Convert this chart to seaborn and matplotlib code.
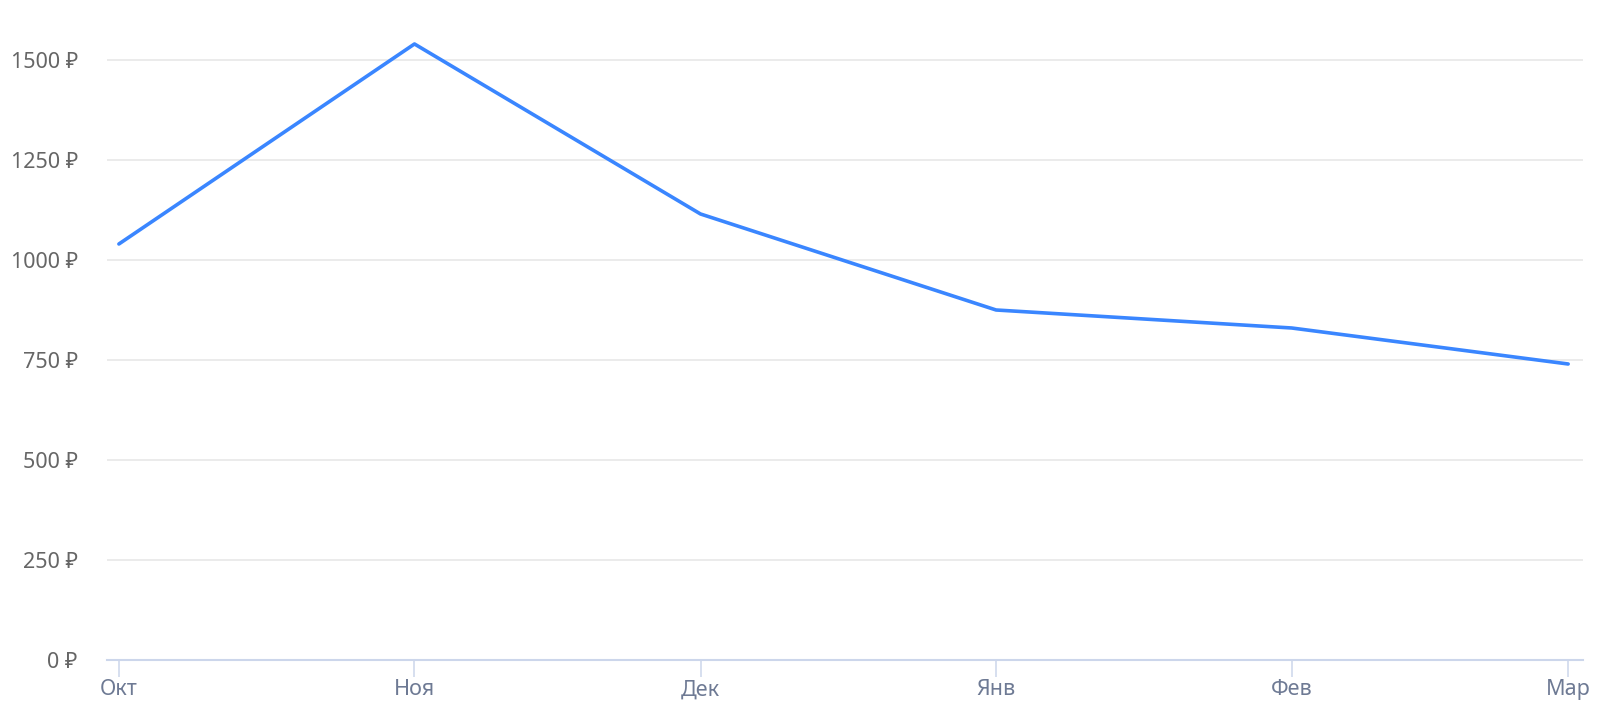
import pandas as pd
import matplotlib
matplotlib.use('Agg')
import matplotlib.pyplot as plt
import seaborn as sns

# Данные графика (цена по месяцам)
dates = ['2023-10-01', '2023-11-01', '2023-12-01', '2024-01-01', '2024-02-01', '2024-03-01']
prices = [1040, 1540, 1115, 875, 830, 740]
month_labels = ['Окт', 'Ноя', 'Дек', 'Янв', 'Фев', 'Мар']
y_ticks = [0, 250, 500, 750, 1000, 1250, 1500]

df = pd.DataFrame({'date': pd.to_datetime(dates), 'price': prices})

sns.set_theme(style='white')
plt.rcParams['font.family'] = ['Noto Sans', 'DejaVu Sans']

fig = plt.figure(figsize=(16.16, 7.21), dpi=100)
ax = fig.add_axes([0.0662, 0.0846, 0.9134, 0.8655])

sns.lineplot(data=df, x='date', y='price', color='#3a86ff', linewidth=2.6, ax=ax)

# Оси и сетка
ax.set_ylim(0, 1560)
ax.set_xlim(df.date.iloc[0] - pd.Timedelta(days=1.25), df.date.iloc[-1] + pd.Timedelta(days=1.56))
ax.set_yticks(y_ticks)
ax.set_yticklabels([f'{v} ₽' for v in y_ticks])
ax.set_xticks(df.date)
ax.set_xticklabels(month_labels)
ax.set_xlabel('')
ax.set_ylabel('')

ax.grid(True, axis='y', color='#e6e6e6', linewidth=1.1)
ax.grid(False, axis='x')
for side in ['top', 'right', 'left']:
    ax.spines[side].set_visible(False)
ax.spines['bottom'].set_color('#ccd6eb')
ax.spines['bottom'].set_linewidth(1.5)
ax.set_axisbelow(True)

ax.tick_params(axis='y', length=0, pad=21, labelsize=15.5, labelcolor='#666666')
ax.tick_params(axis='x', length=12, width=1.1, color='#ccd6eb', pad=2,
               labelsize=15.5, labelcolor='#6e7a94', bottom=True)

plt.savefig('out.png', dpi=100)
